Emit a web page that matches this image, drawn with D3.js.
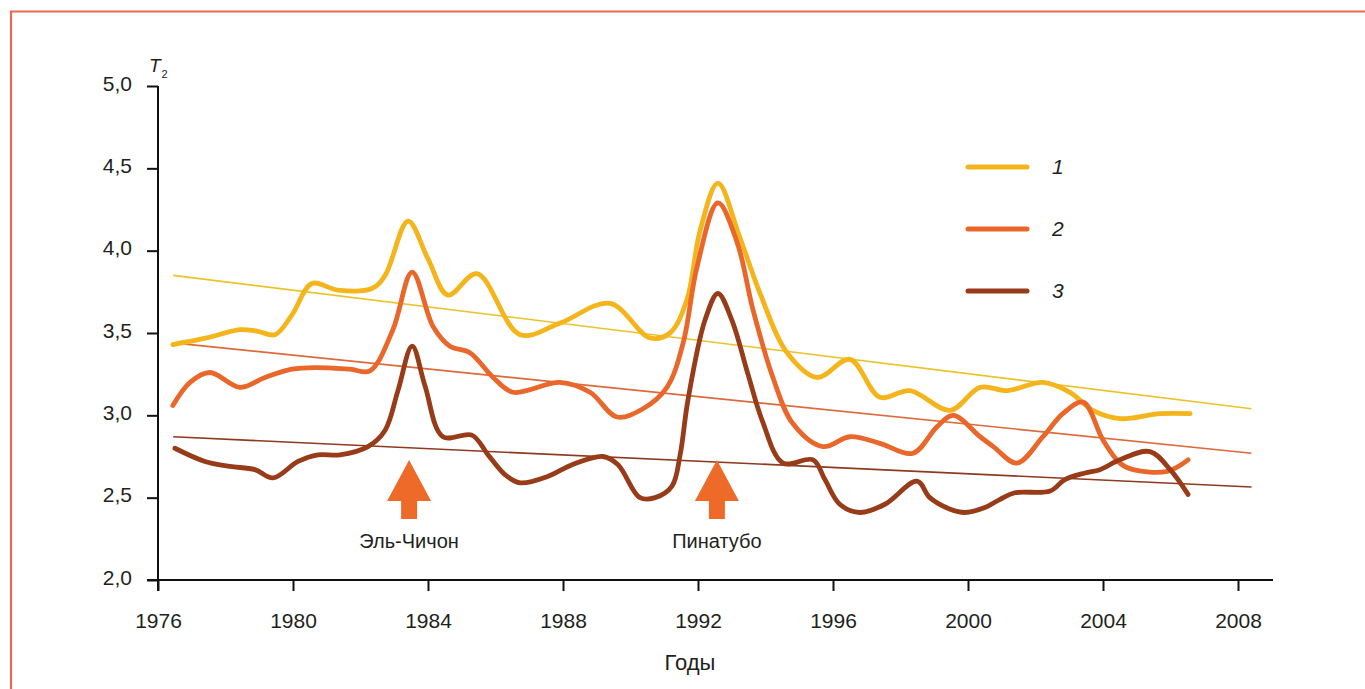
<!DOCTYPE html>
<html>
<head>
<meta charset="utf-8">
<script src="https://cdn.jsdelivr.net/npm/d3@7"></script>
<style>
  body { margin: 0; background: #fff; }
  text { font-family: "Liberation Sans", Arial, sans-serif; fill: #231f20; }
</style>
</head>
<body>
<svg></svg>
<script>
var width = 1365,
    height = 689;

// series 1 (yellow), 2 (orange), 3 (brown): [year, T2]
var series1 = [
  [1976.44, 3.43], [1977.45, 3.47], [1978.43, 3.52], [1978.96, 3.51], [1979.47, 3.49],
  [1979.97, 3.61], [1980.56, 3.80], [1981.33, 3.76], [1982.34, 3.77], [1982.73, 3.85],
  [1983.41, 4.18], [1984.0, 3.95], [1984.59, 3.73], [1985.45, 3.86], [1986.73, 3.49],
  [1987.91, 3.56], [1989.39, 3.68], [1990.58, 3.47], [1991.17, 3.50], [1991.67, 3.70],
  [1992.06, 4.12], [1992.59, 4.41], [1993.24, 4.08], [1993.84, 3.74], [1994.64, 3.38],
  [1995.53, 3.23], [1996.5, 3.34], [1997.39, 3.11], [1998.28, 3.15], [1999.47, 3.03],
  [2000.36, 3.17], [2001.16, 3.15], [2002.22, 3.20], [2003.02, 3.14], [2003.7, 3.03],
  [2004.5, 2.98], [2005.69, 3.01], [2006.58, 3.01]
];
var series2 = [
  [1976.44, 3.06], [1976.95, 3.20], [1977.54, 3.26], [1978.43, 3.17], [1979.17, 3.23],
  [1979.97, 3.28], [1980.65, 3.29], [1981.69, 3.28], [1982.28, 3.27], [1982.96, 3.52],
  [1983.53, 3.87], [1984.15, 3.54], [1984.65, 3.42], [1985.24, 3.38], [1985.93, 3.23],
  [1986.52, 3.14], [1987.91, 3.20], [1988.8, 3.14], [1989.6, 2.99], [1990.37, 3.04],
  [1991.08, 3.17], [1991.56, 3.44], [1991.97, 3.90], [1992.59, 4.29], [1993.16, 4.05],
  [1993.63, 3.64], [1994.22, 3.23], [1994.81, 2.95], [1995.7, 2.81], [1996.5, 2.87],
  [1997.39, 2.83], [1998.37, 2.77], [1999.08, 2.93], [1999.56, 3.00], [2000.36, 2.87],
  [2000.75, 2.81], [2001.45, 2.71], [2002.22, 2.87], [2002.81, 3.01], [2003.41, 3.08],
  [2004.0, 2.85], [2004.5, 2.71], [2004.89, 2.67], [2005.9, 2.66], [2006.52, 2.73]
];
var series3 = [
  [1976.5, 2.80], [1977.39, 2.72], [1978.13, 2.69], [1978.87, 2.67], [1979.41, 2.62],
  [1980.15, 2.72], [1980.74, 2.76], [1981.39, 2.76], [1982.22, 2.81], [1982.73, 2.91],
  [1983.11, 3.15], [1983.53, 3.42], [1983.91, 3.18], [1984.44, 2.87], [1985.3, 2.88],
  [1985.78, 2.76], [1986.28, 2.64], [1986.73, 2.59], [1987.56, 2.63], [1988.27, 2.70],
  [1989.19, 2.75], [1989.63, 2.70], [1990.28, 2.50], [1990.73, 2.50], [1991.23, 2.57],
  [1991.47, 2.76], [1991.7, 3.09], [1992.21, 3.58], [1992.59, 3.74], [1993.0, 3.58],
  [1993.48, 3.25], [1993.9, 2.97], [1994.52, 2.71], [1995.41, 2.73], [1995.76, 2.61],
  [1996.2, 2.46], [1996.8, 2.41], [1997.54, 2.46], [1998.49, 2.60], [1998.87, 2.50],
  [1999.47, 2.43], [1999.91, 2.41], [2000.5, 2.44], [2000.95, 2.49], [2001.39, 2.53],
  [2002.43, 2.54], [2002.87, 2.61], [2003.47, 2.65], [2003.91, 2.67], [2004.5, 2.73],
  [2005.39, 2.78], [2005.99, 2.67], [2006.52, 2.52]
];

// linear trends: values at the two ends
var trendYears = [1976.45, 2008.4];
var trend1 = [3.85, 3.04];
var trend2 = [3.44, 2.77];
var trend3 = [2.87, 2.565];

var seriesNames = ["1", "2", "3"];
var seriesColors = ["#f4b51c", "#e9672a", "#983b19"];
var trendColors = ["#ecc22a", "#dc6a3a", "#8e3a1e"];

var yearTicks = [1976, 1980, 1984, 1988, 1992, 1996, 2000, 2004, 2008];
var valueTicks = [2.0, 2.5, 3.0, 3.5, 4.0, 4.5, 5.0];

var volcanoes = [
  { name: "Эль-Чичон", year: 1983.44 },
  { name: "Пинатубо", year: 1992.56 }
];

var svg = d3.select("svg")
    .attr("width", width)
    .attr("height", height);

// frame (only top and left edges visible)
svg.append("path")
    .attr("d", "M11," + height + "V11.5H" + width)
    .attr("fill", "none")
    .attr("stroke", "#e86a52")
    .attr("stroke-width", 2.2);

var x = d3.scaleLinear().domain([1976, 2008]).range([158, 1238]);
var y = d3.scaleLinear().domain([2, 5]).range([580, 86]);

// axes
var xAxis = svg.append("g")
    .attr("transform", "translate(0,580)")
    .call(d3.axisBottom(x).tickValues(yearTicks).tickFormat(d3.format("d")).tickSize(11).tickSizeOuter(0));
xAxis.select(".domain").remove();
xAxis.append("line")
    .attr("x1", 147).attr("x2", 1273)
    .attr("stroke", "#111").attr("stroke-width", 2);
xAxis.selectAll(".tick line").attr("stroke", "#111").attr("stroke-width", 2);
xAxis.selectAll(".tick text")
    .attr("y", 48).attr("dy", 0)
    .style("font-size", "21px")
    .style("font-family", "'Liberation Sans', Arial, sans-serif")
    .attr("fill", "#231f20");

var yAxis = svg.append("g")
    .attr("transform", "translate(158,0)")
    .call(d3.axisLeft(y).tickValues(valueTicks)
      .tickFormat(function(d) { return d3.format(".1f")(d).replace(".", ","); })
      .tickSize(11).tickSizeOuter(0));
yAxis.select(".domain").remove();
yAxis.append("line")
    .attr("y1", 86).attr("y2", 591)
    .attr("stroke", "#111").attr("stroke-width", 2);
yAxis.selectAll(".tick line").attr("stroke", "#111").attr("stroke-width", 2);
yAxis.selectAll(".tick text")
    .attr("x", -26).attr("dy", "0.2em")
    .style("font-size", "21px")
    .style("font-family", "'Liberation Sans', Arial, sans-serif")
    .attr("fill", "#231f20");

// axis titles
var tLabel = svg.append("text")
    .attr("x", 149).attr("y", 72)
    .style("font-size", "19px").style("font-style", "italic");
tLabel.append("tspan").text("T");
tLabel.append("tspan").attr("dx", 1).attr("dy", 6).style("font-size", "11px").style("font-style", "normal").text("2");

svg.append("text")
    .attr("x", 690).attr("y", 670)
    .attr("text-anchor", "middle")
    .style("font-size", "22px")
    .text("Годы");

// trend lines
[trend1, trend2, trend3].forEach(function(t, i) {
  svg.append("line")
      .attr("x1", x(trendYears[0])).attr("y1", y(t[0]))
      .attr("x2", x(trendYears[1])).attr("y2", y(t[1]))
      .attr("stroke", trendColors[i])
      .attr("stroke-width", 1.6);
});

// data curves
var line = d3.line()
    .x(function(d) { return x(d[0]); })
    .y(function(d) { return y(d[1]); })
    .curve(d3.curveCatmullRom.alpha(0.5));

[series1, series2, series3].forEach(function(s, i) {
  svg.append("path")
      .datum(s)
      .attr("d", line)
      .attr("fill", "none")
      .attr("stroke", seriesColors[i])
      .attr("stroke-width", 4.8)
      .attr("stroke-linejoin", "round")
      .attr("stroke-linecap", "round");
});

// volcano arrows
var arrowTop = 460, headBase = 501, arrowBottom = 519;
var volc = svg.append("g").selectAll("g")
    .data(volcanoes)
    .enter().append("g")
    .attr("transform", function(d) { return "translate(" + x(d.year) + ",0)"; });
volc.append("path")
    .attr("d", "M0," + arrowTop + "L22," + headBase + "H8V" + arrowBottom + "H-8V" + headBase + "H-22Z")
    .attr("fill", "#ee6a28");
volc.append("text")
    .attr("y", 548)
    .attr("text-anchor", "middle")
    .style("font-size", "20px")
    .text(function(d) { return d.name; });

// legend
var legend = svg.append("g").selectAll("g")
    .data(seriesNames)
    .enter().append("g")
    .attr("transform", function(d, i) { return "translate(968," + (167 + i * 62) + ")"; });
legend.append("line")
    .attr("x1", 0).attr("x2", 59)
    .attr("stroke", function(d, i) { return seriesColors[i]; })
    .attr("stroke-width", 5)
    .attr("stroke-linecap", "round");
legend.append("text")
    .attr("x", 84).attr("y", 7)
    .style("font-size", "21px").style("font-style", "italic")
    .text(function(d) { return d; });
</script>
</body>
</html>
